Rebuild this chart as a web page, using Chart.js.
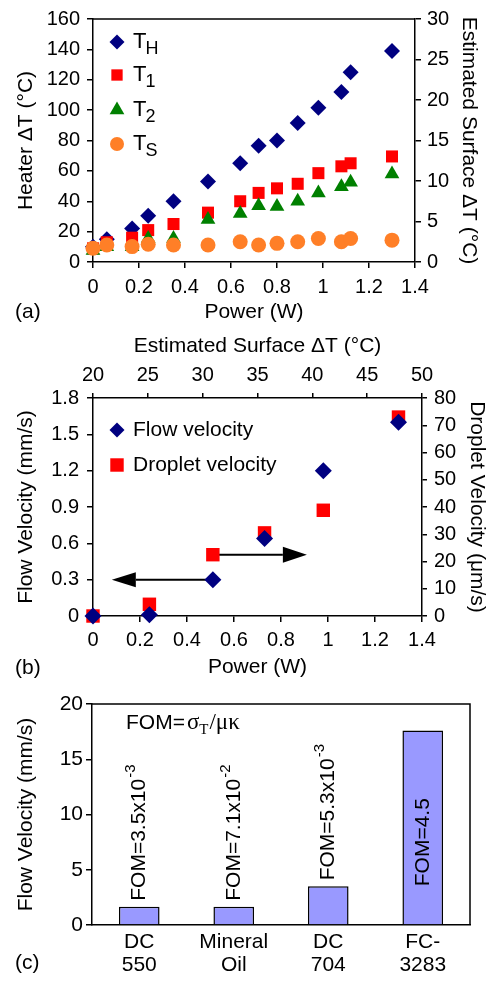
<!DOCTYPE html>
<html>
<head>
<meta charset="utf-8">
<script src="https://cdn.jsdelivr.net/npm/chart.js@4.4.1/dist/chart.umd.min.js"></script>
<style>
  html, body { margin: 0; padding: 0; background: #fff; }
  body { width: 491px; height: 981px; position: relative; overflow: hidden; }
  .panel { position: absolute; left: 0; width: 491px; }
  #panelA { top: 0; height: 330px; }
  #panelB { top: 320px; height: 360px; }
  #panelC { top: 680px; height: 301px; }
</style>
</head>
<body>
<div class="panel" id="panelA"><canvas id="chartA"></canvas></div>
<div class="panel" id="panelB"><canvas id="chartB"></canvas></div>
<div class="panel" id="panelC"><canvas id="chartC"></canvas></div>
<script>
// (a) temperatures vs power
const powerA = [0, 0.06, 0.17, 0.24, 0.35, 0.50, 0.64, 0.72, 0.80, 0.89, 0.98, 1.08, 1.12, 1.30];
const heaterTH = [10, 15, 22, 30.5, 40, 53, 65, 76.5, 80, 91.5, 101.5, 112, 125, 139];
const heaterT1 = [9, 13, 16, 21, 25, 32.5, 40, 45.5, 48.5, 51.5, 58.5, 63, 65, 69.5];
const heaterT2 = [7.5, 10, 10, 15.5, 15.5, 28, 32, 37, 36.5, 40, 45.5, 49.5, 52.5, 58];
const surfaceTS = [1.7, 2.1, 1.9, 2.2, 2.1, 2.1, 2.5, 2.1, 2.3, 2.5, 2.9, 2.5, 2.9, 2.7];

// (b) flow and droplet velocity vs power
const powerB = [0, 0.24, 0.51, 0.73, 0.98, 1.30];
const flowVel = [0, 0.01, 0.30, 0.64, 1.20, 1.60];
const dropletVel = [0, 4.3, 22.5, 30.5, 38.8, 73];
const flowArrow = [0.51, 0.08, 0.30];     // from power, to power, flow velocity
const dropletArrow = [0.51, 0.91, 22.5];  // from power, to power, droplet velocity

// (c) flow velocity per fluid
const fluids = [["DC", "550"], ["Mineral", "Oil"], ["DC", "704"], ["FC-", "3283"]];
const flowC = [1.65, 1.65, 3.5, 17.6];
const fomText = ["FOM=3.5x10", "FOM=7.1x10", "FOM=5.3x10", "FOM=4.5"];
const fomExp = ["-3", "-2", "-3", ""];

const SANS = "'Liberation Sans', Arial, sans-serif";
const SERIF = "'Liberation Serif', 'Times New Roman', serif";
Chart.defaults.font.family = SANS;
Chart.defaults.font.size = 20;
Chart.defaults.color = "#000";

const navy = "#000080", red = "#ff0000", green = "#008000", orange = "#ff7f27";

const fixW = w => scale => { scale.width = w; };
const fixH = h => scale => { scale.height = h; };
const numLabel = v => String(+Number(v).toFixed(2));

function axis(opts) {
  return Object.assign({
    type: "linear",
    grid: { drawOnChartArea: false, color: "#000", lineWidth: 1.5, tickLength: 6 },
    border: { color: "#000", width: 1.5 },
  }, opts);
}

function marker(ctx, style, r, x, y, color) {
  ctx.save();
  ctx.fillStyle = color;
  ctx.beginPath();
  if (style === "rectRot") {
    ctx.moveTo(x - r, y); ctx.lineTo(x, y - r); ctx.lineTo(x + r, y); ctx.lineTo(x, y + r);
  } else if (style === "rect") {
    const s = Math.SQRT1_2 * r;
    ctx.rect(x - s, y - s, 2 * s, 2 * s);
  } else if (style === "triangle") {
    ctx.moveTo(x, y - r);
    ctx.lineTo(x + r * Math.sin(2 * Math.PI / 3), y - r * Math.cos(2 * Math.PI / 3));
    ctx.lineTo(x + r * Math.sin(4 * Math.PI / 3), y - r * Math.cos(4 * Math.PI / 3));
  } else {
    ctx.arc(x, y, r, 0, Math.PI * 2);
  }
  ctx.closePath();
  ctx.fill();
  ctx.restore();
}

function panelTag(ctx, text, y) {
  ctx.save();
  ctx.font = "21px " + SANS;
  ctx.fillStyle = "#000";
  ctx.textBaseline = "middle";
  ctx.fillText(text, 15, y);
  ctx.restore();
}

function pts(xs, ys) { return xs.map((x, i) => ({ x: x, y: ys[i] })); }

const baseOpts = {
  responsive: true,
  maintainAspectRatio: false,
  animation: false,
  events: [],
  plugins: { legend: { display: false }, tooltip: { enabled: false } },
};

// ---------- (a) ----------
const legendA = {
  id: "legendA",
  afterDraw(chart) {
    const ctx = chart.ctx;
    const items = [
      ["rectRot", 7.5, navy, "H"], ["rect", 8, red, "1"],
      ["triangle", 8.5, green, "2"], ["circle", 7, orange, "S"],
    ];
    const ys = [42, 75, 110, 144];
    items.forEach((it, i) => {
      marker(ctx, it[0], it[1], 117, ys[i], it[2]);
      ctx.save();
      ctx.fillStyle = "#000";
      ctx.textBaseline = "middle";
      ctx.font = "22px " + SANS;
      ctx.fillText("T", 133, ys[i]);
      const w = ctx.measureText("T").width;
      ctx.font = "18px " + SANS;
      ctx.fillText(it[3], 133 + w - 1, ys[i] + 7);
      ctx.restore();
    });
    // top frame line
    const a = chart.chartArea;
    ctx.save();
    ctx.strokeStyle = "#000"; ctx.lineWidth = 1.5;
    ctx.beginPath(); ctx.moveTo(a.left, a.top); ctx.lineTo(a.right, a.top); ctx.stroke();
    ctx.restore();
    panelTag(ctx, "(a)", 312);
  },
};

new Chart(document.getElementById("chartA"), {
  type: "scatter",
  data: {
    datasets: [
      { data: pts(powerA, heaterTH), yAxisID: "y", pointStyle: "rectRot", pointRadius: 8, backgroundColor: navy, borderWidth: 0, order: 4, clip: false },
      { data: pts(powerA, heaterT1), yAxisID: "y", pointStyle: "rect", pointRadius: 8.5, backgroundColor: red, borderWidth: 0, order: 3, clip: false },
      { data: pts(powerA, heaterT2), yAxisID: "y", pointStyle: "triangle", pointRadius: 8.5, backgroundColor: green, borderWidth: 0, order: 2, clip: false },
      { data: pts(powerA, surfaceTS), yAxisID: "y2", pointStyle: "circle", pointRadius: 7.5, backgroundColor: orange, borderWidth: 0, order: 1, clip: false },
    ],
  },
  options: Object.assign({}, baseOpts, {
    layout: { padding: { top: 17, left: 0, right: 0, bottom: 0 } },
    scales: {
      x: axis({
        position: "bottom", min: 0, max: 1.4,
        ticks: { stepSize: 0.2, padding: 7, autoSkip: false, maxRotation: 0, callback: numLabel },
        title: { display: true, text: "Power (W)", font: { size: 21 }, padding: { top: 0, bottom: 5 } },
        afterFit: fixH(68),
      }),
      y: axis({
        position: "left", min: 0, max: 160,
        ticks: { stepSize: 20, padding: 7, autoSkip: false },
        title: { display: true, text: "Heater \u0394T (\u00b0C)", font: { size: 21 }, padding: { top: 14, bottom: 0 } },
        afterFit: fixW(93),
      }),
      y2: axis({
        position: "right", min: 0, max: 30,
        ticks: { stepSize: 5, padding: 6, autoSkip: false },
        title: { display: true, text: "Estimated Surface \u0394T (\u00b0C)", font: { size: 21 }, padding: { top: 10, bottom: 0 } },
        afterFit: fixW(76),
      }),
    },
  }),
  plugins: [legendA],
});

// ---------- (b) ----------
function arrow(ctx, x0, x1, y, len, half) {
  const dir = Math.sign(x1 - x0);
  ctx.beginPath();
  ctx.moveTo(x0, y); ctx.lineTo(x1 - dir * len, y);
  ctx.stroke();
  ctx.beginPath();
  ctx.moveTo(x1, y); ctx.lineTo(x1 - dir * len, y - half); ctx.lineTo(x1 - dir * len, y + half);
  ctx.closePath();
  ctx.fill();
}

const decorB = {
  id: "decorB",
  beforeDatasetsDraw(chart) {
    const ctx = chart.ctx, s = chart.scales;
    ctx.save();
    ctx.strokeStyle = "#000"; ctx.fillStyle = "#000"; ctx.lineWidth = 2;
    arrow(ctx, s.x.getPixelForValue(flowArrow[0]), s.x.getPixelForValue(flowArrow[1]), s.y.getPixelForValue(flowArrow[2]), 24, 7.5);
    arrow(ctx, s.x.getPixelForValue(dropletArrow[0]), s.x.getPixelForValue(dropletArrow[1]), s.y2.getPixelForValue(dropletArrow[2]), 24, 8);
    ctx.restore();
  },
  afterDraw(chart) {
    const ctx = chart.ctx;
    marker(ctx, "rectRot", 7.5, 117, 110, navy);
    marker(ctx, "rect", 9.5, 117, 145, red);
    ctx.save();
    ctx.fillStyle = "#000"; ctx.textBaseline = "middle"; ctx.font = "21px " + SANS;
    ctx.fillText("Flow velocity", 133, 110);
    ctx.fillText("Droplet velocity", 133, 145);
    ctx.restore();
    panelTag(ctx, "(b)", 348);
  },
};

new Chart(document.getElementById("chartB"), {
  type: "scatter",
  data: {
    datasets: [
      { data: pts(powerB, flowVel), yAxisID: "y", pointStyle: "rectRot", pointRadius: 8.5, backgroundColor: navy, borderWidth: 0, order: 1, clip: false },
      { data: pts(powerB, dropletVel), yAxisID: "y2", pointStyle: "rect", pointRadius: 9.5, backgroundColor: red, borderWidth: 0, order: 2, clip: false },
    ],
  },
  options: Object.assign({}, baseOpts, {
    layout: { padding: 0 },
    scales: {
      x: axis({
        position: "bottom", min: 0, max: 1.4,
        ticks: { stepSize: 0.2, padding: 6, autoSkip: false, maxRotation: 0, callback: numLabel },
        title: { display: true, text: "Power (W)", font: { size: 21 }, padding: { top: 0, bottom: 0 } },
        afterFit: fixH(64),
      }),
      x2: axis({
        position: "top", min: 20, max: 50,
        grid: { drawOnChartArea: false, color: "#000", lineWidth: 1.5, tickLength: 5 },
        ticks: { stepSize: 5, padding: 6, autoSkip: false, maxRotation: 0 },
        title: { display: true, text: "Estimated Surface \u0394T (\u00b0C)", font: { size: 21 }, padding: { top: 14, bottom: 0 } },
        afterFit: fixH(78),
      }),
      y: axis({
        position: "left", min: 0, max: 1.8,
        ticks: { stepSize: 0.3, padding: 8, autoSkip: false, callback: numLabel },
        title: { display: true, text: "Flow Velocity (mm/s)", font: { size: 21 }, padding: { top: 14, bottom: 0 } },
        afterFit: fixW(93),
      }),
      y2: axis({
        position: "right", min: 0, max: 80,
        grid: { drawOnChartArea: false, color: "#000", lineWidth: 1.5, tickLength: 5 },
        ticks: { stepSize: 10, padding: 7, autoSkip: false },
        title: { display: true, text: "Droplet Velocity (\u03bcm/s)", font: { size: 21 }, padding: { top: 2, bottom: 0 } },
        afterFit: fixW(69),
      }),
    },
  }),
  plugins: [decorB],
});

// ---------- (c) ----------
const decorC = {
  id: "decorC",
  afterDatasetsDraw(chart) {
    const ctx = chart.ctx;
    const bars = chart.getDatasetMeta(0).data;
    ctx.save();
    ctx.fillStyle = "#000";
    bars.forEach((bar, i) => {
      const inside = flowC[i] > 10;
      const startY = inside ? bar.base - 38 : bar.y - 6;
      ctx.save();
      ctx.translate(bar.x, startY);
      ctx.rotate(-Math.PI / 2);
      ctx.textBaseline = "middle";
      ctx.textAlign = "left";
      ctx.font = "21px " + SANS;
      ctx.fillText(fomText[i], 0, 0);
      const w = ctx.measureText(fomText[i]).width;
      ctx.font = "15px " + SANS;
      ctx.fillText(fomExp[i], w + 1, -8);
      ctx.restore();
    });
    ctx.restore();
  },
  afterDraw(chart) {
    const ctx = chart.ctx, a = chart.chartArea;
    ctx.save();
    ctx.fillStyle = "#000";
    ctx.textBaseline = "middle";
    // FOM definition text
    const y = 43;
    let x = 126;
    ctx.font = "21px " + SANS;
    ctx.fillText("FOM=", x, y);
    x += ctx.measureText("FOM=").width + 2;
    ctx.font = "23px " + SERIF;
    ctx.fillText("\u03c3", x, y);
    x += ctx.measureText("\u03c3").width;
    ctx.font = "15px " + SERIF;
    ctx.fillText("T", x, y + 7);
    x += ctx.measureText("T").width + 1;
    ctx.font = "23px " + SERIF;
    ctx.fillText("/\u03bc\u03ba", x, y);
    // frame: top and right
    ctx.strokeStyle = "#000"; ctx.lineWidth = 1.5;
    ctx.beginPath();
    ctx.moveTo(a.left, a.top); ctx.lineTo(a.right, a.top); ctx.lineTo(a.right, a.bottom);
    ctx.stroke();
    ctx.restore();
    panelTag(ctx, "(c)", 283);
  },
};

new Chart(document.getElementById("chartC"), {
  type: "bar",
  data: {
    labels: fluids,
    datasets: [
      { data: flowC, backgroundColor: "#9999ff", borderColor: "#000", borderWidth: 1.5, borderSkipped: "bottom", barPercentage: 0.43, categoryPercentage: 1 },
    ],
  },
  options: Object.assign({}, baseOpts, {
    layout: { padding: { top: 24, right: 21, left: 0, bottom: 0 } },
    scales: {
      x: {
        type: "category",
        grid: { display: false, drawTicks: false },
        border: { color: "#000", width: 1.5 },
        ticks: { padding: 6, autoSkip: false, maxRotation: 0, font: { size: 21, lineHeight: 1.1 } },
        afterFit: fixH(56),
      },
      y: axis({
        position: "left", min: 0, max: 20,
        ticks: { stepSize: 5, padding: 3, autoSkip: false, font: { size: 21 } },
        title: { display: true, text: "Flow Velocity (mm/s)", font: { size: 21 }, padding: { top: 14, bottom: 0 } },
        afterFit: fixW(92),
      }),
    },
  }),
  plugins: [decorC],
});
</script>
</body>
</html>
